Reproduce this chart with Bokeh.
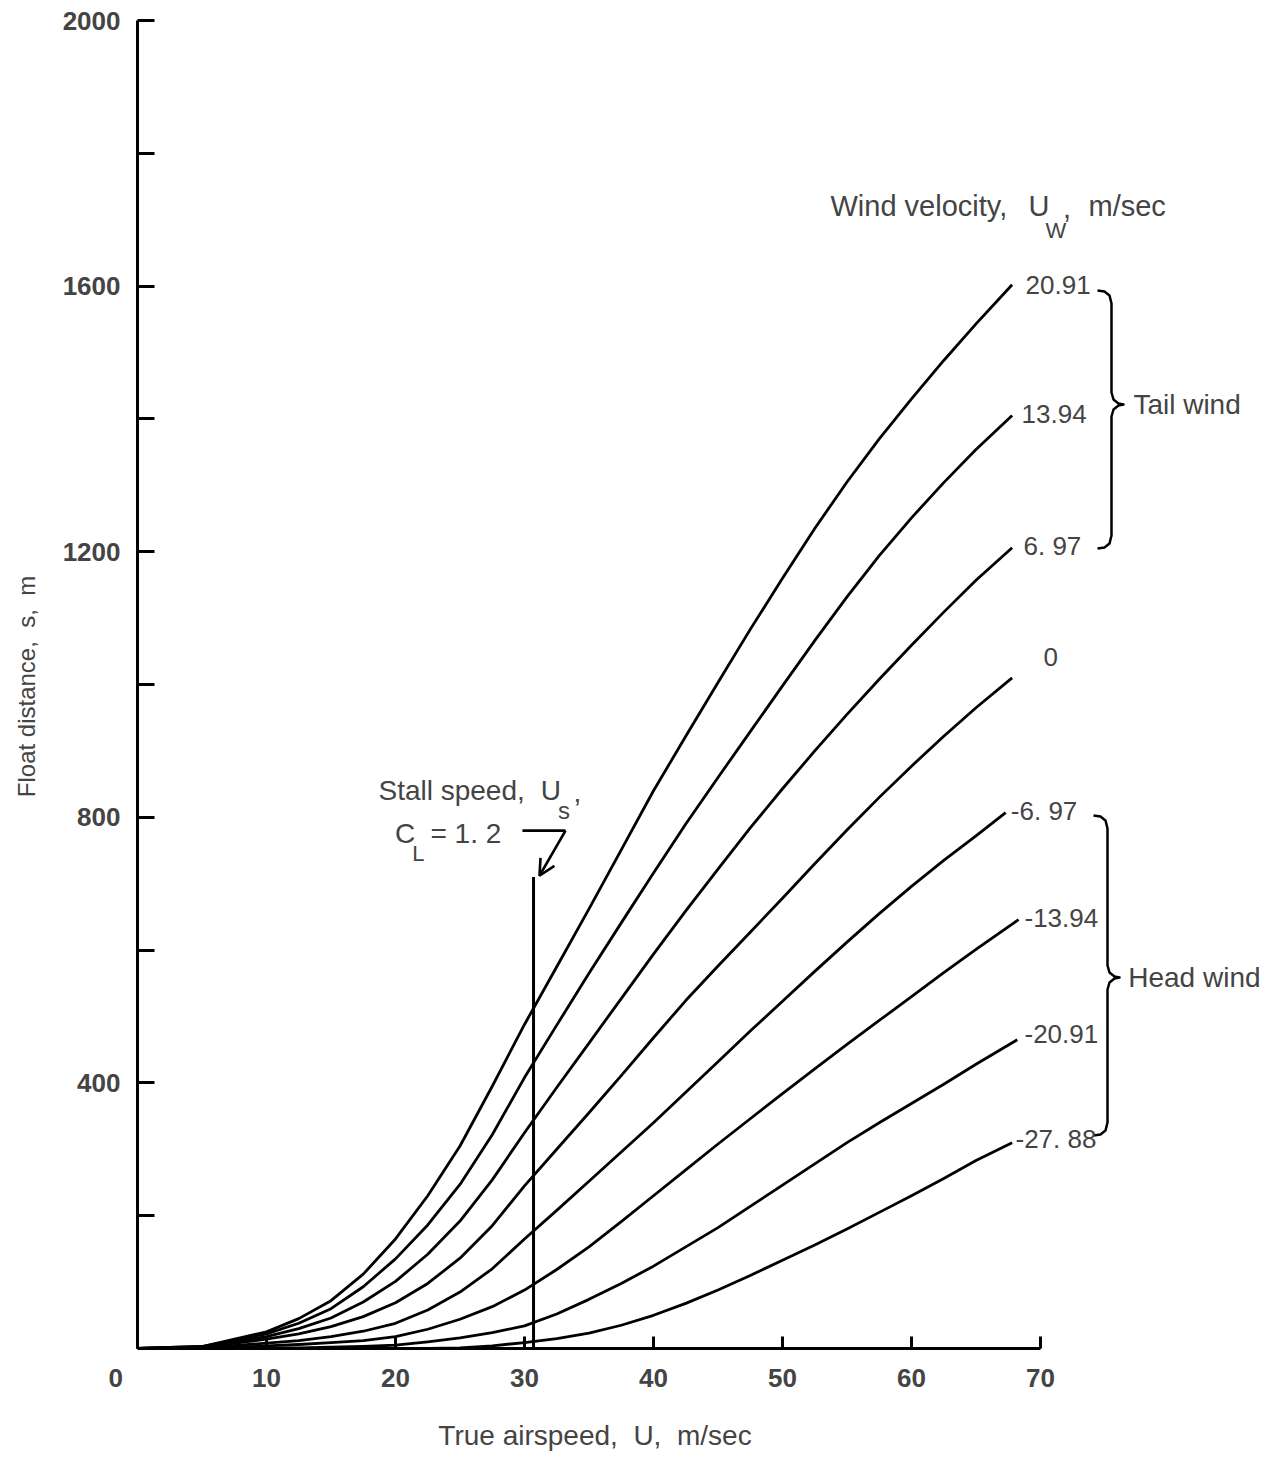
from bokeh.plotting import figure
from bokeh.models import Range1d, FixedTicker, Label, Arrow, OpenHead
from bokeh.embed import file_html
from bokeh.resources import INLINE

# ---------------- data ----------------
airspeed = [0, 5, 10, 12.5, 15, 17.5, 20, 22.5, 25, 27.5, 30, 32.5, 35, 37.5,
            40, 42.5, 45, 47.5, 50, 52.5, 55, 57.5, 60, 62.5, 65, 67.8]

wind_labels = ["20.91", "13.94", "6. 97", "0", "-6. 97", "-13.94", "-20.91", "-27. 88"]
curve_end_airspeed = [67.8, 67.8, 67.8, 67.8, 67.3, 68.3, 68.2, 67.8]

float_tail_2091 = [0, 3, 25, 45, 72, 112, 165, 230, 305, 395, 488, 575, 662, 751,
                   840, 922, 1003, 1083, 1160, 1235, 1305, 1370, 1430, 1488, 1543, 1602]
float_tail_1394 = [0, 3, 22, 38, 60, 93, 135, 186, 247, 322, 408, 487, 565, 641,
                   716, 790, 860, 929, 998, 1066, 1132, 1194, 1251, 1304, 1354, 1405]
float_tail_697 = [0, 2, 18, 30, 46, 70, 101, 142, 192, 254, 325, 393, 460, 527,
                  594, 659, 722, 784, 843, 900, 955, 1008, 1059, 1109, 1157, 1206]
float_calm = [0, 2, 14, 22, 33, 48, 69, 98, 136, 185, 245, 300, 355, 411,
              468, 524, 576, 627, 678, 730, 781, 830, 877, 922, 965, 1010]
float_head_697 = [0, 1, 8, 12, 18, 26, 38, 58, 85, 120, 165, 208, 252, 296,
                  340, 386, 432, 478, 523, 568, 612, 655, 696, 735, 772, 807]
float_head_1394 = [0, 0, 4, 6, 9, 12, 18, 29, 44, 63, 88, 119, 153, 191,
                   230, 269, 308, 346, 384, 421, 458, 494, 530, 566, 601, 646]
float_head_2091 = [0, 0, 1, 1, 2, 3, 5, 10, 16, 24, 34, 52, 74, 98,
                   124, 153, 182, 214, 246, 278, 310, 340, 369, 398, 428, 465]
float_head_2788 = [0, 0, 0, 0, 0, 0, 0, 0, 1, 4, 9, 15, 23, 35,
                   50, 68, 88, 110, 133, 156, 180, 205, 230, 256, 283, 310]

stall_speed = 30.7
stall_line_top = 710

x_ticks = [0, 10, 20, 30, 40, 50, 60, 70]
x_tick_labels = {0: "0\u2007\u2007\u2007"}
y_ticks = [200, 400, 600, 800, 1000, 1200, 1400, 1600, 1800, 2000]
y_tick_labels = {200: "", 400: "400", 600: "", 800: "800", 1000: "", 1200: "1200",
                 1400: "", 1600: "1600", 1800: "", 2000: "2000"}

# ---------------- layout ----------------
FIG_W, FIG_H = 1270, 1463
BL, BR, BT, BB = 137, 0, 0, 115
PX_PER_U = 903 / 70.0
PX_PER_S = 1328 / 2000.0
x_end = (FIG_W - BL - BR) / PX_PER_U
y_end = (FIG_H - BT - BB) / PX_PER_S

NUM_FONT = "Liberation Sans"
WORD_FONT = "Liberation Sans"

p = figure(width=FIG_W, height=FIG_H, x_range=Range1d(0, x_end), y_range=Range1d(0, y_end),
           output_backend="svg", toolbar_location=None,
           min_border_left=BL, min_border_right=BR, min_border_top=BT, min_border_bottom=BB)
p.outline_line_color = None
p.grid.visible = False
p.background_fill_color = "white"
p.border_fill_color = "white"

# axes
xa = p.xaxis[0]
xa.bounds = (0, 70)
xa.ticker = FixedTicker(ticks=x_ticks)
xa.major_label_overrides = x_tick_labels
xa.major_tick_in = 12
xa.major_tick_out = 0
xa.minor_tick_line_color = None
xa.axis_line_width = 3
xa.major_tick_line_width = 3
xa.major_label_standoff = 14
xa.major_label_text_font = NUM_FONT
xa.major_label_text_font_style = "bold"
xa.major_label_text_font_size = "26px"
# trailing figure spaces keep the visible title centred under the 0-70 axis
xa.axis_label = "True airspeed,\u00a0 U,\u00a0 m/sec" + "\u2007" * 14
xa.axis_label_text_font = WORD_FONT
xa.axis_label_text_font_style = "normal"
xa.axis_label_text_font_size = "28px"
xa.axis_label_standoff = 24

ya = p.yaxis[0]
ya.bounds = (0, 2000)
ya.ticker = FixedTicker(ticks=y_ticks)
ya.major_label_overrides = y_tick_labels
ya.major_tick_in = 17
ya.major_tick_out = 0
ya.minor_tick_line_color = None
ya.axis_line_width = 3
ya.major_tick_line_width = 3
ya.major_label_standoff = 17
ya.major_label_text_font = NUM_FONT
ya.major_label_text_font_style = "bold"
ya.major_label_text_font_size = "26px"
ya.axis_label = "Float distance,\u00a0 s,\u00a0 m\u2003"
ya.axis_label_text_font = WORD_FONT
ya.axis_label_text_font_style = "normal"
ya.axis_label_text_font_size = "24px"
ya.axis_label_standoff = 20

# ---------------- curves ----------------
curves = [float_tail_2091, float_tail_1394, float_tail_697, float_calm,
          float_head_697, float_head_1394, float_head_2091, float_head_2788]
for vals, end_u in zip(curves, curve_end_airspeed):
    xs = airspeed[:-1] + [end_u]
    p.line(xs, vals, line_color="black", line_width=2.8, line_join="round")

# curve labels (left edge, vertical middle)
label_x = [68.84, 68.53, 68.68, 70.23, 67.7, 68.76, 68.76, 68.06]
label_y = [1601, 1408, 1209, 1041, 810, 649, 474, 316]
for t, lx, ly in zip(wind_labels, label_x, label_y):
    p.add_layout(Label(x=lx, y=ly, text=t, text_align="left", text_baseline="middle",
                       text_font=NUM_FONT, text_font_size="26px"))

# ---------------- braces ----------------
def brace(x_px, top_px, tip_px, bot_px, hook_top=14, hook_bot=14, tip=12):
    pts = [(-hook_top, 0), (-7, 1), (-2, 5), (0, 13),
           (0, tip_px - top_px - 12), (2, tip_px - top_px - 5), (7, tip_px - top_px - 1),
           (tip, tip_px - top_px), (7, tip_px - top_px + 1), (2, tip_px - top_px + 5),
           (0, tip_px - top_px + 12), (0, bot_px - top_px - 13), (-2, bot_px - top_px - 5),
           (-7, bot_px - top_px - 1), (-hook_bot, bot_px - top_px)]
    xs = [(x_px + dx - 137) / PX_PER_U for dx, dy in pts]
    ys = [(1348 - (top_px + dy)) / PX_PER_S for dx, dy in pts]
    return xs, ys

for args in [(1111, 290, 404, 548), (1107, 815, 977, 1135)]:
    bx, by = brace(*args)
    p.line(bx, by, line_color="black", line_width=2.5, line_join="round")

p.add_layout(Label(x=77.2, y=1422, text="Tail wind", text_align="left", text_baseline="middle",
                   text_font=WORD_FONT, text_font_size="28px"))
p.add_layout(Label(x=76.8, y=559, text="Head wind", text_align="left", text_baseline="middle",
                   text_font=WORD_FONT, text_font_size="28px"))

# ---------------- header: Wind velocity, U_W, m/sec ----------------
def word(x, y, t, size="29px", font=WORD_FONT):
    p.add_layout(Label(x=x, y=y, text=t, text_align="left", text_baseline="middle",
                       text_font=font, text_font_size=size))

word(53.72, 1721, "Wind velocity,")
word(69.07, 1721, "U")
word(70.39, 1684, "W", size="22px")
word(71.75, 1718, ",")
word(73.72, 1721, "m/sec")

# ---------------- stall speed annotation ----------------
p.line([stall_speed, stall_speed], [0, stall_line_top], line_color="black", line_width=3)
p.line([29.84, 33.18], [780, 780], line_color="black", line_width=2.6)
p.add_layout(Arrow(end=OpenHead(size=16, line_width=2.6, line_color="black"),
                   x_start=33.18, y_start=780, x_end=31.16, y_end=712,
                   line_color="black", line_width=2.6))

word(18.68, 840, "Stall speed,", size="28px")
word(31.25, 840, "U", size="28px")
word(32.6, 810, "s", size="24px")
word(33.8, 838, ",", size="28px")
word(19.97, 775, "C", size="28px")
word(21.3, 746, "L", size="22px")
word(22.71, 775, "=\u00a01.\u00a02", size="28px")

open("out.html", "w").write(file_html(p, INLINE))
